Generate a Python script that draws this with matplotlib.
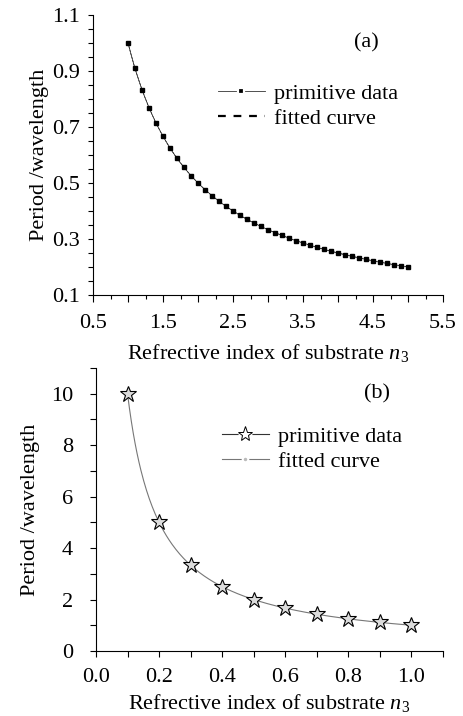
import matplotlib
matplotlib.use('Agg')
import matplotlib.pyplot as plt
from matplotlib.lines import Line2D
import numpy as np

plt.rcParams['font.family'] = ['Liberation Serif', 'DejaVu Serif']
plt.rcParams['mathtext.fontset'] = 'custom'
plt.rcParams['mathtext.rm'] = 'Liberation Serif'
plt.rcParams['mathtext.it'] = 'Liberation Serif:italic'
plt.rcParams['font.size'] = 16

# panel (a) values
n3_a = [1.0, 1.1, 1.2, 1.3, 1.4, 1.5, 1.6, 1.7, 1.8, 1.9,
        2.0, 2.1, 2.2, 2.3, 2.4, 2.5, 2.6, 2.7, 2.8, 2.9,
        3.0, 3.1, 3.2, 3.3, 3.4, 3.5, 3.6, 3.7, 3.8, 3.9,
        4.0, 4.1, 4.2, 4.3, 4.4, 4.5, 4.6, 4.7, 4.8, 4.9, 5.0]
period_a = [1.000, 0.909, 0.833, 0.769, 0.714, 0.667, 0.625, 0.588, 0.556, 0.526,
            0.500, 0.476, 0.455, 0.435, 0.417, 0.400, 0.385, 0.370, 0.357, 0.345,
            0.333, 0.323, 0.313, 0.303, 0.294, 0.286, 0.278, 0.270, 0.263, 0.256,
            0.250, 0.244, 0.238, 0.233, 0.227, 0.222, 0.217, 0.213, 0.208, 0.204, 0.200]

# panel (b) values
n3_b = [0.1, 0.2, 0.3, 0.4, 0.5, 0.6, 0.7, 0.8, 0.9, 1.0]
period_b = [10.0, 5.0, 3.33, 2.5, 2.0, 1.67, 1.43, 1.25, 1.11, 1.0]

xlabel = 'Refrective index of substrate $n_3$'
ylabel = 'Period /wavelength'


def power_fit(x, y, num=300):
    # fit y = a * x^b on log scale
    b, loga = np.polyfit(np.log(x), np.log(y), 1)
    xs = np.linspace(min(x), max(x), num)
    return xs, np.exp(loga) * xs ** b


fig = plt.figure(figsize=(4.63, 7.16), dpi=100)

# ---- (a)
ax1 = fig.add_axes([93 / 463, 1 - 295 / 716, 350 / 463, 280 / 716])
fx, fy = power_fit(n3_a, period_a)
ax1.plot(fx, fy, color='k', lw=0.5, linestyle=(0, (4, 1)))
ax1.plot(n3_a, period_a, linestyle='-', color='#333333', lw=0.5,
         marker='s', markersize=2.8, markerfacecolor='k', markeredgecolor='k')
ax1.set_xlim(0.5, 5.5)
ax1.set_ylim(0.1, 1.1)
ax1.set_xticks(np.arange(0.5, 5.51, 0.5))
ax1.set_xticklabels(['0.5', '', '1.5', '', '2.5', '', '3.5', '', '4.5', '', '5.5'])
ax1.set_xticks(np.arange(0.5, 5.51, 0.25), minor=True)
ax1.set_yticks([0.1, 0.3, 0.5, 0.7, 0.9, 1.1])
ax1.set_yticks(np.arange(0.1, 1.101, 0.05), minor=True)
ax1.tick_params(axis='x', which='major', length=5, pad=9)
ax1.tick_params(axis='x', which='minor', length=3)
ax1.tick_params(axis='y', which='both', length=3.5, pad=6)
ax1.set_xlabel(xlabel, labelpad=6)
ax1.set_ylabel(ylabel, labelpad=2)
ax1.text(4.4, 1.0, '(a)', ha='center', va='center')
h1 = [Line2D([], [], color='#333333', lw=0.6, marker='s', markersize=5,
             markerfacecolor='k', markeredgecolor='white', markeredgewidth=1.6),
      Line2D([], [], color='k', lw=1.6, linestyle=(0, (3.5, 3.5)))]
ax1.legend(h1, ['primitive data', 'fitted curve'], loc='upper left',
           bbox_to_anchor=(0.357, 0.755), frameon=False, handlelength=2.1,
           handletextpad=0.4, labelspacing=0.2, borderaxespad=0, borderpad=0)

# ---- (b)
ax2 = fig.add_axes([96 / 463, 1 - 651 / 716, 347 / 463, 283 / 716])
fx, fy = power_fit(n3_b, period_b)
ax2.plot(fx, fy, color='#777777', lw=0.8)
ax2.plot(n3_b, period_b, linestyle='none', marker='*', markersize=12,
         markerfacecolor='#dcdcdc', markeredgecolor='k', markeredgewidth=0.8)
ax2.set_xlim(0, 1.1)
ax2.set_ylim(0, 11)
ax2.set_xticks(np.arange(0, 1.01, 0.2))
ax2.set_xticks(np.arange(0, 1.101, 0.1), minor=True)
ax2.set_yticks(np.arange(0, 10.1, 2))
ax2.set_yticks(np.arange(0, 11.1, 1), minor=True)
ax2.xaxis.set_major_formatter(matplotlib.ticker.FormatStrFormatter('%.1f'))
ax2.tick_params(axis='x', which='both', length=4, pad=8)
ax2.tick_params(axis='y', which='both', length=4.5, pad=12)
ax2.set_xlabel(xlabel, labelpad=4)
ax2.set_ylabel(ylabel, labelpad=8)
ax2.text(0.89, 10.0, '(b)', ha='center', va='center')
# legend proxies: line broken around the marker, like the original
h2 = [(Line2D([], [], color='#333333', lw=0.8, marker='o', markersize=9,
              markerfacecolor='white', markeredgecolor='white'),
       Line2D([], [], linestyle='none', marker='*', markersize=11,
              markerfacecolor='white', markeredgecolor='k', markeredgewidth=0.7)),
      Line2D([], [], color='#777777', lw=0.8, marker='o', markersize=4,
             markerfacecolor='#bbbbbb', markeredgecolor='white', markeredgewidth=1.5)]
ax2.legend(h2, ['primitive data', 'fitted curve'], loc='upper left',
           bbox_to_anchor=(0.363, 0.795), frameon=False, handlelength=2.1,
           handletextpad=0.4, labelspacing=0.2, borderaxespad=0, borderpad=0)

for ax in (ax1, ax2):
    ax.spines['top'].set_visible(False)
    ax.spines['right'].set_visible(False)
    ax.tick_params(which='both', direction='out', width=0.8)

fig.savefig('out.png', dpi=100)
